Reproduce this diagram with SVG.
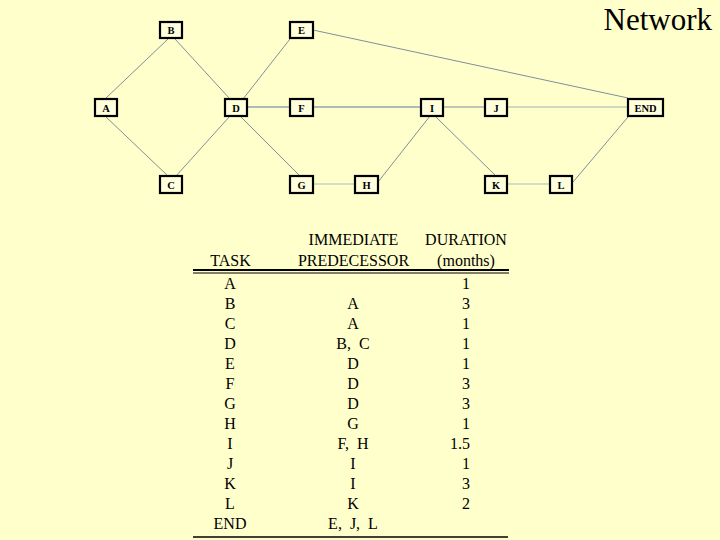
<svg xmlns="http://www.w3.org/2000/svg" width="720" height="540" viewBox="0 0 720 540">
<style>
.bg{fill:#FFFFCC}
.box{fill:#FFFFDD;stroke:#000;stroke-width:2.2}
.lbl{font-family:"Liberation Serif","Times New Roman",serif;font-size:10.5px;font-weight:bold;text-anchor:middle;fill:#000}
.e{stroke:#7F8F9A;stroke-width:1;fill:none}
.e2{stroke:#8FA4B0;stroke-width:1.6;fill:none}
.t{font-family:"Liberation Serif","Times New Roman",serif;font-size:16px;fill:#000}
.title{font-family:"Liberation Serif","Times New Roman",serif;font-size:31px;fill:#000;text-anchor:end}
.c{text-anchor:middle}
.r{text-anchor:end}
.rule{stroke:#000;fill:none}
</style>
<rect class="bg" x="0" y="0" width="720" height="540"/>
<text class="title" x="712" y="30">Network</text>
<g id="connectors">
<line class="e" x1="168" y1="39" x2="105" y2="99"/>
<line class="e" x1="175" y1="39" x2="230" y2="99"/>
<line class="e" x1="105" y1="116" x2="168" y2="176"/>
<line class="e" x1="176" y1="176" x2="230" y2="116"/>
<line class="e" x1="290" y1="39" x2="243" y2="99"/>
<line class="e" x1="240" y1="116" x2="300" y2="176"/>
<line class="e2" x1="247" y1="107" x2="290" y2="107"/>
<line class="e2" x1="313" y1="107" x2="421" y2="107"/>
<line class="e" x1="313" y1="184" x2="355" y2="184" style="stroke:#A8BCBC"/>
<line class="e" x1="313" y1="30" x2="628" y2="98"/>
<line class="e" x1="443" y1="107" x2="485" y2="107"/>
<line class="e" x1="507" y1="107" x2="628" y2="107" style="stroke:#A0B0B4"/>
<line class="e" x1="378" y1="182" x2="430" y2="116"/>
<line class="e" x1="435" y1="116" x2="496" y2="176"/>
<line class="e" x1="507" y1="184" x2="550" y2="184" style="stroke:#A8BCBC"/>
<line class="e" x1="573" y1="182" x2="628" y2="117"/>
</g>
<g id="node-A"><rect class="box" x="95" y="99" width="22" height="17"/><text class="lbl" x="106" y="111.5">A</text></g>
<g id="node-B"><rect class="box" x="160" y="22" width="22" height="16"/><text class="lbl" x="171" y="34">B</text></g>
<g id="node-C"><rect class="box" x="160" y="176" width="22" height="17"/><text class="lbl" x="171" y="188.5">C</text></g>
<g id="node-D"><rect class="box" x="225" y="99" width="22" height="17"/><text class="lbl" x="236" y="111.5">D</text></g>
<g id="node-E"><rect class="box" x="290" y="22" width="23" height="16"/><text class="lbl" x="301.5" y="34">E</text></g>
<g id="node-F"><rect class="box" x="290" y="99" width="23" height="17"/><text class="lbl" x="301.5" y="111.5">F</text></g>
<g id="node-G"><rect class="box" x="290" y="176" width="23" height="17"/><text class="lbl" x="301.5" y="188.5">G</text></g>
<g id="node-H"><rect class="box" x="355" y="176" width="23" height="17"/><text class="lbl" x="366.5" y="188.5">H</text></g>
<g id="node-I"><rect class="box" x="421" y="99" width="22" height="17"/><text class="lbl" x="432" y="111.5">I</text></g>
<g id="node-J"><rect class="box" x="485" y="99" width="22" height="17"/><text class="lbl" x="496" y="111.5">J</text></g>
<g id="node-K"><rect class="box" x="485" y="176" width="22" height="17"/><text class="lbl" x="496" y="188.5">K</text></g>
<g id="node-L"><rect class="box" x="550" y="176" width="22" height="17"/><text class="lbl" x="561" y="188.5">L</text></g>
<g id="node-END"><rect class="box" x="628" y="99" width="35" height="17"/><text class="lbl" x="645.5" y="111.5">END</text></g>
<g id="table">
<text class="t c" x="353.5" y="244.5">IMMEDIATE</text>
<text class="t c" x="466" y="244.5">DURATION</text>
<text class="t c" x="230.5" y="265.5">TASK</text>
<text class="t c" x="353.5" y="265.5">PREDECESSOR</text>
<text class="t c" x="466" y="265.5">(months)</text>
<line class="rule" x1="193" y1="270" x2="509" y2="270" stroke-width="1.8"/>
<line class="rule" x1="193" y1="273" x2="509" y2="273" stroke-width="1"/>
<g class="t c">
<text x="230" y="288.5">A</text>
<text x="230" y="308.5">B</text>
<text x="230" y="328.5">C</text>
<text x="230" y="348.5">D</text>
<text x="230" y="368.5">E</text>
<text x="230" y="388.5">F</text>
<text x="230" y="408.5">G</text>
<text x="230" y="428.5">H</text>
<text x="230" y="448.5">I</text>
<text x="230" y="468.5">J</text>
<text x="230" y="488.5">K</text>
<text x="230" y="508.5">L</text>
<text x="230" y="528.5">END</text>
</g>
<g class="t c" style="white-space:pre">
<text x="353" y="308.5">A</text>
<text x="353" y="328.5">A</text>
<text x="353" y="348.5" xml:space="preserve">B,  C</text>
<text x="353" y="368.5">D</text>
<text x="353" y="388.5">D</text>
<text x="353" y="408.5">D</text>
<text x="353" y="428.5">G</text>
<text x="353" y="448.5" xml:space="preserve">F,  H</text>
<text x="353" y="468.5">I</text>
<text x="353" y="488.5">I</text>
<text x="353" y="508.5">K</text>
<text x="353" y="528.5" xml:space="preserve">E,  J,  L</text>
</g>
<g class="t r">
<text x="470" y="288.5">1</text>
<text x="470" y="308.5">3</text>
<text x="470" y="328.5">1</text>
<text x="470" y="348.5">1</text>
<text x="470" y="368.5">1</text>
<text x="470" y="388.5">3</text>
<text x="470" y="408.5">3</text>
<text x="470" y="428.5">1</text>
<text x="470" y="448.5">1.5</text>
<text x="470" y="468.5">1</text>
<text x="470" y="488.5">3</text>
<text x="470" y="508.5">2</text>
</g>
<line class="rule" x1="193" y1="537" x2="508" y2="537" stroke-width="1.5"/>
</g>
</svg>
